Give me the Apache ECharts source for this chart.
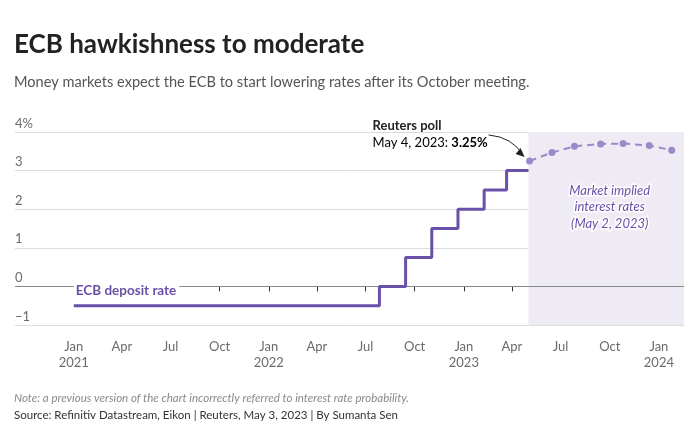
<!DOCTYPE html>
<html>
<head>
<meta charset="utf-8">
<script src="https://cdn.jsdelivr.net/npm/echarts@6/dist/echarts.min.js"></script>
<style>
html,body{margin:0;padding:0;background:#fff;}
#c{width:698px;height:434px;}
</style>
</head>
<body>
<div id="c"></div>
<script>
// ---- data ----
const depositDates = ['2021-01-01','2022-07-27','2022-09-14','2022-11-02','2022-12-21','2023-02-08','2023-03-22','2023-05-02'];
const depositValues = [-0.5, 0, 0.75, 1.5, 2.0, 2.5, 3.0, 3.0];
const marketDates = ['2023-05-04','2023-06-15','2023-07-27','2023-09-14','2023-10-26','2023-12-14','2024-01-25'];
const marketValues = [3.25, 3.47, 3.63, 3.69, 3.70, 3.65, 3.53];
const tickDates = ['2021-01-01','2021-04-01','2021-07-01','2021-10-01','2022-01-01','2022-04-01','2022-07-01','2022-10-01','2023-01-01','2023-04-01','2023-07-01','2023-10-01','2024-01-01'];
const monthNames = ['Jan','Feb','Mar','Apr','May','Jun','Jul','Aug','Sep','Oct','Nov','Dec'];
const yTicks = [-1, 0, 1, 2, 3, 4];
const forecastStart = '2023-05-02';
const xMin = '2020-09-13';
const xMax = '2024-02-17';

const FONT = 'Lato, "Noto Sans", sans-serif';
const PURPLE = '#6a50a8';
const LIGHTP = '#9c89c9';

const ts = d => new Date(d + 'T00:00:00Z').getTime();
const tickTs = tickDates.map(ts);

const chart = echarts.init(document.getElementById('c'), null, {renderer:'canvas'});
const option = {
  animation: false,
  backgroundColor: '#fff',
  grid: {left: 15, right: 14, top: 132, bottom: 109, containLabel: false},
  xAxis: {
    type: 'value',
    min: ts(xMin), max: ts(xMax),
    axisLine: {show: true, lineStyle: {color: '#dcdcdc', width: 1}},
    axisTick: {show: true, customValues: tickTs, length: 5, lineStyle: {color: '#333', width: 1}},
    splitLine: {show: false},
    axisLabel: {
      customValues: tickTs,
      margin: 14,
      color: '#6b6b6b', fontSize: 13, fontFamily: FONT, lineHeight: 16,
      formatter: function (v) {
        const d = new Date(v);
        const m = d.getUTCMonth();
        return m === 0 ? monthNames[m] + '\n' + d.getUTCFullYear() : monthNames[m];
      }
    }
  },
  yAxis: {
    type: 'value', min: yTicks[0], max: yTicks[yTicks.length - 1], interval: 1,
    axisLine: {show: false}, axisTick: {show: false},
    splitLine: {show: true, lineStyle: {color: '#dcdcdc', width: 1}},
    axisLabel: {
      inside: true, margin: 0, verticalAlign: 'bottom', padding: [0, 0, 2, 0],
      color: '#6b6b6b', fontSize: 13, fontFamily: FONT,
      formatter: v => v === 4 ? '4%' : (v < 0 ? '\u2212' + Math.abs(v) : String(v))
    }
  },
  series: [
    {
      name: 'ECB deposit rate', type: 'line', step: 'end',
      data: depositDates.map((d, i) => [ts(d), depositValues[i]]),
      showSymbol: false, symbol: 'none',
      lineStyle: {color: PURPLE, width: 3},
      z: 5,
      markLine: {
        silent: true, symbol: 'none', label: {show: false},
        lineStyle: {color: '#8a8a8a', width: 1.2, type: 'solid'},
        data: [{yAxis: 0}], z: 1
      }
    },
    {
      name: 'Market implied', type: 'line',
      data: marketDates.map((d, i) => [ts(d), marketValues[i]]),
      symbol: 'circle', symbolSize: 7,
      itemStyle: {color: LIGHTP},
      lineStyle: {color: LIGHTP, width: 2, type: [7, 5]},
      z: 6,
      markArea: {
        silent: true,
        itemStyle: {color: '#eeebf4'},
        data: [[{xAxis: ts(forecastStart)}, {xAxis: ts(xMax)}]]
      }
    }
  ]
};
chart.setOption(option);

// annotations positioned from data
const p0 = chart.convertToPixel({seriesIndex: 1}, [ts(marketDates[0]), marketValues[0]]);
const lbl = chart.convertToPixel({seriesIndex: 0}, [ts(depositDates[0]), 0]);
const mid = chart.convertToPixel({seriesIndex: 1}, [ts('2023-10-01'), 2.06]);
const ax = p0[0] - 41, ay = p0[1] - 26;
const ex = p0[0] - 6, ey = p0[1] - 5;

chart.setOption({
  graphic: [
    {type: 'text', left: 14, top: 32, style: {text: 'ECB hawkishness to moderate', font: 'bold 26px ' + FONT, fill: '#222'}},
    {type: 'text', left: 14, top: 75, style: {text: 'Money markets expect the ECB to start lowering rates after its October meeting.', font: '14.6px ' + FONT, fill: '#555'}},
    {type: 'text', left: 14, top: 392, style: {text: 'Note: a previous version of the chart incorrectly referred to interest rate probability.', font: 'italic 11.5px ' + FONT, fill: '#8a8a8a'}},
    {type: 'text', left: 14, top: 409, style: {text: 'Source: Refinitiv Datastream, Eikon | Reuters, May 3, 2023 | By Sumanta Sen', font: '11.5px ' + FONT, fill: '#333'}},
    {type: 'text', x: lbl[0], y: lbl[1] + 4, z: 20, style: {
      text: 'ECB deposit rate', font: 'bold 13.5px ' + FONT, fill: PURPLE,
      backgroundColor: '#fff', padding: [0, 3, 0, 2], verticalAlign: 'middle', align: 'left'}},
    {type: 'text', x: ax - 116, y: ay - 9, z: 20, style: {text: 'Reuters poll', font: 'bold 13px ' + FONT, fill: '#222', verticalAlign: 'middle'}},
    {type: 'text', x: ax - 116, y: ay + 8, z: 20, style: {
      text: '{a|May 4, 2023: }{b|3.25%}', verticalAlign: 'middle',
      rich: {a: {font: '13px ' + FONT, color: '#666'}, b: {font: 'bold 13px ' + FONT, color: '#222'}}}},
    {type: 'bezierCurve', z: 20, shape: {x1: ax, y1: ay, cpx1: ax + 24, cpy1: ay + 2, x2: ex, y2: ey},
      style: {stroke: '#222', lineWidth: 1, fill: null}},
    {type: 'polygon', z: 20, shape: {points: [[ex + 1, ey + 1], [ex - 8, ey - 2], [ex - 3, ey - 8]]}, style: {fill: '#222'}},
    {type: 'text', x: mid[0], y: mid[1], z: 20, style: {
      text: 'Market implied\ninterest rates\n(May 2, 2023)', font: 'italic 13px ' + FONT, fill: PURPLE,
      align: 'center', verticalAlign: 'middle', lineHeight: 16.5, stroke: '#fff', lineWidth: 3}}
  ]
});
</script>
</body>
</html>
